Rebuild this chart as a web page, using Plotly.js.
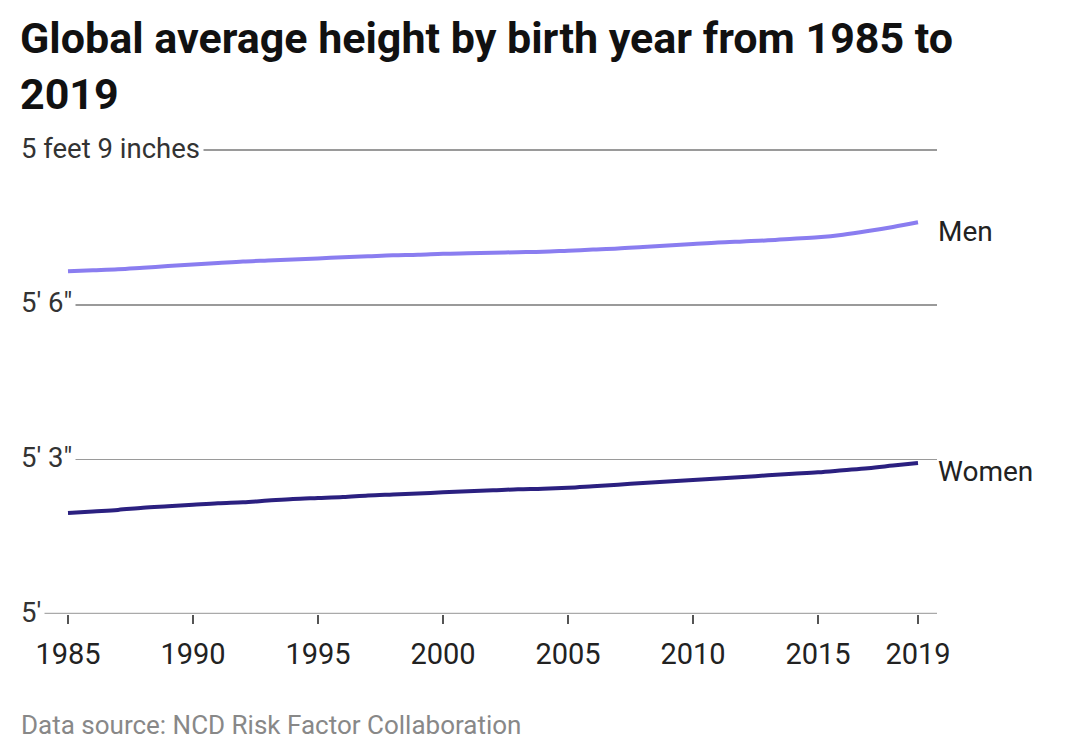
<!DOCTYPE html>
<html>
<head>
<meta charset="utf-8">
<script src="https://cdn.plot.ly/plotly-3.0.1.min.js"></script>
<style>html,body{margin:0;padding:0;background:#fff;}#chart{width:1080px;height:753px;}</style>
</head>
<body>
<div id="chart"></div>
<script>
const years = [1985,1986,1987,1988,1989,1990,1991,1992,1993,1994,1995,1996,1997,1998,1999,2000,2001,2002,2003,2004,2005,2006,2007,2008,2009,2010,2011,2012,2013,2014,2015,2016,2017,2018,2019];
const menInches = [66.65,66.67,66.69,66.72,66.75,66.78,66.81,66.84,66.86,66.88,66.90,66.92,66.94,66.96,66.97,66.99,67.00,67.01,67.02,67.03,67.05,67.07,67.09,67.12,67.15,67.18,67.21,67.23,67.25,67.28,67.31,67.36,67.43,67.51,67.60];
const womenInches = [61.96,61.99,62.02,62.06,62.09,62.12,62.15,62.17,62.20,62.23,62.25,62.27,62.30,62.32,62.34,62.36,62.38,62.40,62.42,62.43,62.45,62.48,62.51,62.54,62.57,62.60,62.63,62.66,62.69,62.72,62.75,62.79,62.83,62.88,62.93];
const yTickVals = [60, 63, 66, 69];
const yTickLabels = ["5'", "5' 3\"", "5' 6\"", "5 feet 9 inches"];
const xTickVals = [1985,1990,1995,2000,2005,2010,2015,2019];
const seriesNames = ["Men", "Women"];
const seriesColors = ["#8a7df0", "#2b2080"];
const titleText = 'Global average height by birth year from 1985 to<br>2019';
const sourceText = 'Data source: NCD Risk Factor Collaboration';

// layout geometry (pixels)
const W = 1080, H = 753;
const M = {l: 21, r: 143, t: 145, b: 139};
const plotH = H - M.t - M.b, plotW = W - M.l - M.r;
const pxToPaperY = p => (H - M.b - p) / plotH;
const pxToPaperX = p => (p - M.l) / plotW;

const traces = [menInches, womenInches].map((vals, i) => ({
  x: years, y: vals, type: 'scatter', mode: 'lines', name: seriesNames[i],
  line: {color: seriesColors[i], width: 4, shape: 'spline', smoothing: 1},
  hoverinfo: 'skip'
}));

const annotations = [];
yTickVals.forEach((v, i) => {
  annotations.push({
    x: 0, xref: 'paper', y: v, yref: 'y', xanchor: 'left', yanchor: 'middle',
    text: yTickLabels[i], showarrow: false, bgcolor: '#ffffff', borderpad: 3,
    xshift: -4,
    font: {family: 'Roboto, sans-serif', size: 27.5, color: '#333'}, yshift: 2
  });
});
[menInches, womenInches].forEach((vals, i) => {
  annotations.push({
    x: years[years.length-1], xref: 'x', y: vals[vals.length-1], yref: 'y',
    xanchor: 'left', yanchor: 'middle', xshift: 18, yshift: -9,
    text: seriesNames[i], showarrow: false,
    font: {family: 'Roboto, sans-serif', size: 28, color: '#222'}
  });
});
annotations.push({
  x: pxToPaperX(19), xref: 'paper', y: pxToPaperY(725), yref: 'paper', text: sourceText,
  showarrow: false, xanchor: 'left', yanchor: 'middle',
  font: {family: 'Roboto, sans-serif', size: 26, color: '#888'}
});
annotations.push({
  x: pxToPaperX(18), xref: 'paper', y: pxToPaperY(11), yref: 'paper', text: titleText,
  showarrow: false, xanchor: 'left', yanchor: 'top', align: 'left',
  font: {family: 'Roboto, sans-serif', size: 43, color: '#111', weight: 'bold'}
});

const layout = {
  width: W, height: H,
  margin: M,
  paper_bgcolor: '#fff', plot_bgcolor: '#fff',
  showlegend: false,
  xaxis: {
    range: [1985 - (68 - M.l) / 25, 2019 + (W - M.r - 918) / 25],
    tickvals: xTickVals, ticktext: xTickVals.map(String),
    showgrid: false, zeroline: false, showline: false,
    ticks: 'outside', ticklen: 9, tickwidth: 1.5, tickcolor: '#555',
    ticklabelstandoff: 5,
    tickfont: {family: 'Roboto, sans-serif', size: 29, color: '#222'},
    fixedrange: true
  },
  yaxis: {
    range: [60, 69.1], tickvals: yTickVals, showticklabels: false,
    showgrid: true, gridcolor: '#9a9a9a', gridwidth: 1.5,
    zeroline: false, showline: false, ticks: '', fixedrange: true
  },
  shapes: [{
    type: 'line', xref: 'paper', x0: 0, x1: 1, yref: 'y', y0: 60, y1: 60,
    line: {color: '#aaa', width: 2.5}, layer: 'below'
  }],
  annotations: annotations
};

Plotly.newPlot('chart', traces, layout, {displayModeBar: false, staticPlot: true});
</script>
</body>
</html>
